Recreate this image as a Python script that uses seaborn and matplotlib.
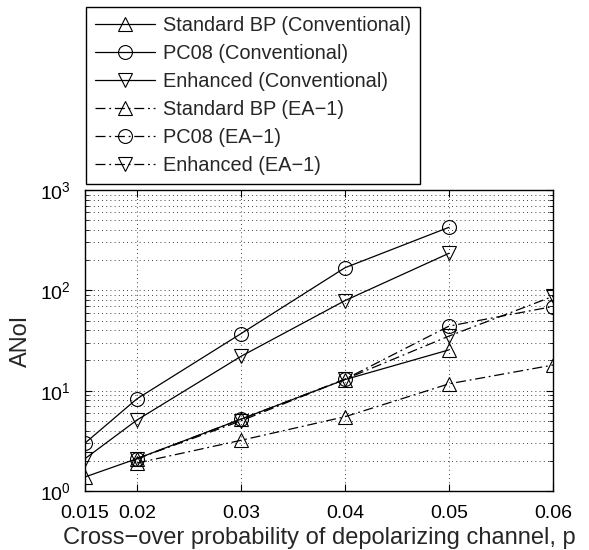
import matplotlib
matplotlib.use("Agg")
from matplotlib import pyplot as plt
from matplotlib.ticker import LogLocator, FixedLocator, NullFormatter
import seaborn as sns
import pandas as pd

# cross-over probability
p_conv = [0.015, 0.02, 0.03, 0.04, 0.05]
p_ea = [0.02, 0.03, 0.04, 0.05, 0.06]

# ANoI values
std_conv = [1.38, 2.1, 5.2, 12.9, 25.5]
pc08_conv = [3.0, 8.3, 37, 168, 425]
enh_conv = [2.1, 5.1, 22, 79, 234]
std_ea = [1.9, 3.2, 5.5, 11.7, 18]
pc08_ea = [2.1, 5.2, 13, 44, 69]
enh_ea = [2.1, 5.0, 13, 35, 87]

xticks = [0.015, 0.02, 0.03, 0.04, 0.05, 0.06]
xticklabels = ["0.015", "0.02", "0.03", "0.04", "0.05", "0.06"]

sns.set_style("ticks")
plt.rcParams["font.family"] = ["Liberation Sans", "DejaVu Sans"]
plt.rcParams["mathtext.fontset"] = "custom"
plt.rcParams["mathtext.rm"] = "Liberation Sans"

fig = plt.figure(figsize=(5.89, 5.50), dpi=100)
ax = fig.add_axes([85 / 589, 1 - 491 / 550, 468 / 589, 301 / 550])

dashdot = (0, (8, 3, 1.5, 3))
series = [
    (p_conv, std_conv, "^", "-", "Standard BP (Conventional)"),
    (p_conv, pc08_conv, "o", "-", "PC08 (Conventional)"),
    (p_conv, enh_conv, "v", "-", "Enhanced (Conventional)"),
    (p_ea, std_ea, "^", dashdot, "Standard BP (EA\u22121)"),
    (p_ea, pc08_ea, "o", dashdot, "PC08 (EA\u22121)"),
    (p_ea, enh_ea, "v", dashdot, "Enhanced (EA\u22121)"),
]

for xs, ys, mk, ls, name in series:
    df = pd.DataFrame({"p": xs, "anoi": ys})
    sns.lineplot(data=df, x="p", y="anoi", ax=ax, color="black", linewidth=0.9,
                 linestyle=ls, marker=mk, markersize=10, markerfacecolor="none",
                 markeredgecolor="black", markeredgewidth=0.8, label=name)

ax.set_yscale("log")
ax.set_ylim(1, 1000)
ax.set_xlim(0.015, 0.06)
ax.xaxis.set_major_locator(FixedLocator(xticks))
ax.set_xticklabels(xticklabels)
ax.yaxis.set_major_locator(LogLocator(base=10, numticks=10))
ax.yaxis.set_minor_locator(LogLocator(base=10, subs=range(2, 10), numticks=10))
ax.yaxis.set_minor_formatter(NullFormatter())

ax.grid(True, which="major", axis="both", color="black", linestyle=(0, (1, 4)), linewidth=0.6)
ax.grid(True, which="minor", axis="y", color="black", linestyle=(0, (1, 4)), linewidth=0.6)

for s in ax.spines.values():
    s.set_visible(True)
    s.set_linewidth(1.0)
    s.set_color("black")
ax.tick_params(which="both", direction="in", top=True, right=True, labelsize=14, colors="black")
ax.tick_params(which="major", length=5)
ax.tick_params(which="minor", length=3)
ax.tick_params(axis="x", pad=10)
ax.tick_params(axis="y", pad=10)

ax.set_xlabel("Cross\u2212over probability of depolarizing channel, p", fontsize=17, labelpad=4)
ax.set_ylabel("ANoI", fontsize=17, labelpad=6)

leg = ax.legend(loc="upper left", bbox_to_anchor=(86 / 589, 1 - 7 / 550),
                bbox_transform=fig.transFigure, borderaxespad=0, fontsize=14.4,
                frameon=True, fancybox=False, edgecolor="black", framealpha=1,
                handlelength=3.0, handletextpad=0.4, labelspacing=0.45,
                borderpad=0.45)
leg.get_frame().set_linewidth(1.0)

fig.savefig("out.png", dpi=100)
